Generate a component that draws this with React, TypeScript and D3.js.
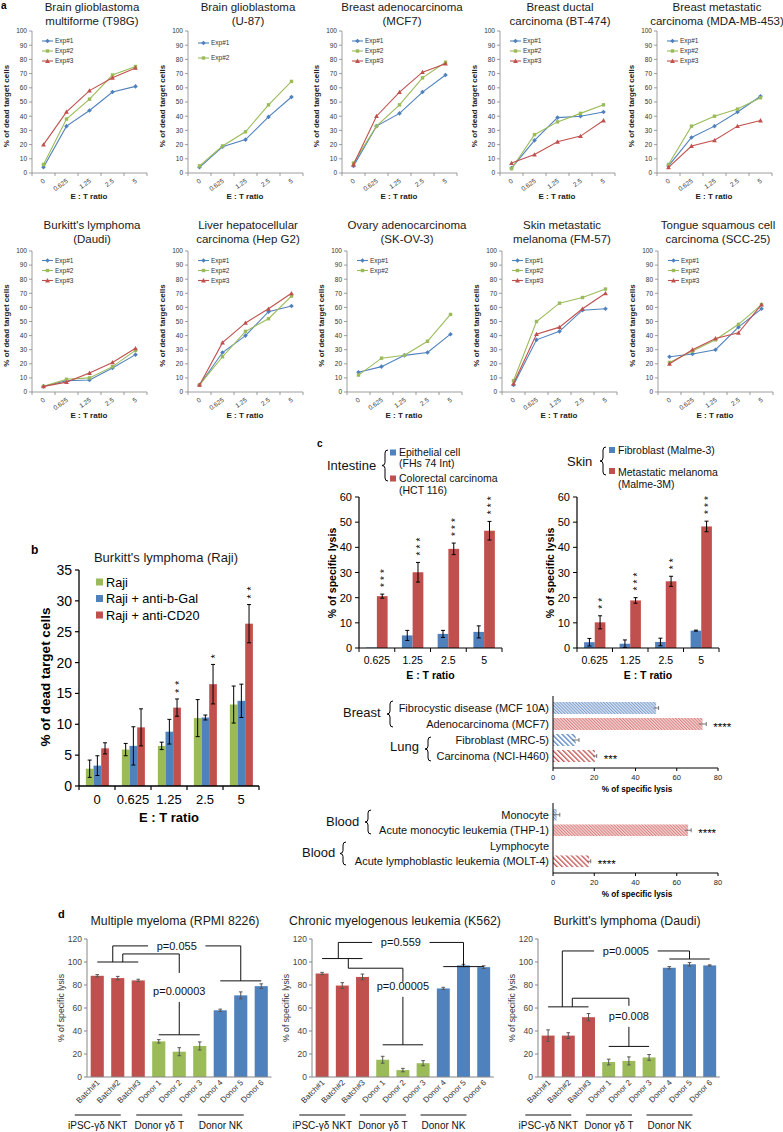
import React from 'react';
import * as d3 from 'd3';

const FONT = "'Liberation Sans', Arial, Helvetica, sans-serif";
const BLUE = '#4F81BD';
const GREEN = '#9BBB59';
const RED = '#C0504D';
const AXIS_GRAY = '#868686';
const DARK = '#222';

// ---------- Panel a data ----------
const ET_RATIOS = ['0', '0.625', '1.25', '2.5', '5'];
const EXP_LABELS = ['Exp#1', 'Exp#2', 'Exp#3'];
const T98G = [[4, 33, 44, 57, 61], [6, 38, 52, 69, 75], [20, 43, 58, 67, 74]];
const U87 = [[4, 18.5, 23.5, 39.5, 53.5], [5, 19, 29, 48, 64.5]];
const MCF7 = [[5, 33, 42, 57, 69], [7, 33, 48, 67, 78], [6, 40, 57, 71, 77]];
const BT474 = [[3.5, 23, 39, 40, 43], [3, 27, 36, 42, 48], [7, 13, 22, 26, 37]];
const MDAMB453 = [[5, 25, 33, 43, 54], [6, 33, 40, 45, 53], [4, 19, 23, 33, 37]];
const DAUDI_A = [[4, 8, 8.5, 17, 26.5], [4, 9, 10, 18, 29.5], [4, 7, 13.5, 21, 31]];
const HEPG2 = [[5, 28, 40, 57, 61], [5, 25, 43, 52, 68], [5, 35, 49, 59, 70]];
const SKOV3 = [[14, 18, 26, 28, 41], [12, 24, 26, 36, 55]];
const FM57 = [[5, 37, 43, 58, 59], [8, 50, 63, 67, 73], [6, 41, 46, 59, 70]];
const SCC25 = [[25, 27, 30, 46, 59], [21, 29, 37, 48, 62], [20, 30, 38, 42, 62]];
const Y_TICKS_A = d3.range(0, 101, 10);

// ---------- Panel b data ----------
const B_GROUPS = ['0', '0.625', '1.25', '2.5', '5'];
const B_SERIES = ['Raji', 'Raji + anti-b-Gal', 'Raji + anti-CD20'];
const RAJI = [2.8, 5.9, 6.5, 11.0, 13.2];
const RAJI_ERR = [1.4, 1.0, 0.6, 3.0, 3.0];
const RAJI_BGAL = [3.3, 6.5, 8.8, 11.1, 13.8];
const RAJI_BGAL_ERR = [1.6, 3.1, 2.0, 0.4, 2.7];
const RAJI_CD20 = [6.1, 9.5, 12.7, 16.5, 26.3];
const RAJI_CD20_ERR = [0.9, 3.0, 1.4, 3.2, 3.1];
const B_STARS = ['', '', '**', '*', '**'];
const B_TICKS = d3.range(0, 36, 5);

// ---------- Panel c data ----------
const C_RATIOS = ['0.625', '1.25', '2.5', '5'];
const FHS74 = [0.2, 5.0, 5.6, 6.4];
const FHS74_ERR = [0, 2.0, 1.4, 2.4];
const HCT116 = [20.6, 30.1, 39.4, 46.6];
const HCT116_ERR = [0.8, 3.9, 2.3, 3.7];
const INTESTINE_STARS = ['***', '***', '***', '***'];
const MALME3 = [2.3, 1.7, 2.4, 6.9];
const MALME3_ERR = [1.5, 1.5, 1.5, 0.2];
const MALME3M = [10.2, 18.9, 26.5, 48.3];
const MALME3M_ERR = [2.6, 1.1, 2.0, 2.1];
const SKIN_STARS = ['**', '***', '**', '***'];
const C_TICKS = d3.range(0, 61, 10);

const BL_LABELS = ['Fibrocystic disease (MCF 10A)', 'Adenocarcinoma (MCF7)', 'Fibroblast (MRC-5)', 'Carcinoma (NCI-H460)'];
const BL_VALUES = [50, 72.5, 11, 20.3];
const BL_ERR = [1.2, 1.8, 1.6, 0.9];
const BL_STARS = ['', '****', '', '***'];
const BLOOD_LABELS = ['Monocyte', 'Acute monocytic leukemia (THP-1)', 'Lymphocyte', 'Acute lymphoblastic leukemia (MOLT-4)'];
const BLOOD_VALUES = [1.8, 65.5, 0, 17.5];
const BLOOD_ERR = [1.5, 1.5, 0, 0.8];
const BLOOD_STARS = ['', '****', '', '****'];
const H_TICKS = [0, 20, 40, 60, 80];

// ---------- Panel d data ----------
const D_LABELS = ['Batch#1', 'Batch#2', 'Batch#3', 'Donor 1', 'Donor 2', 'Donor 3', 'Donor 4', 'Donor 5', 'Donor 6'];
const D_GROUPS = ['iPSC-γδ NKT', 'Donor γδ T', 'Donor NK'];
const RPMI8226 = [88, 86, 84, 31, 22, 27, 58, 71, 79];
const RPMI8226_ERR = [1, 1.5, 1, 1.5, 3.5, 3.5, 1, 3, 2];
const K562 = [90, 79.5, 87, 15, 6, 12, 77, 97, 95.5];
const K562_ERR = [1, 2.5, 2.5, 3, 1.5, 2.2, 1, 1, 1.2];
const DAUDI_D = [36, 36, 52, 13, 14, 17, 95, 98, 97];
const DAUDI_D_ERR = [5, 2.5, 3.2, 2.5, 3.5, 2.5, 1, 1.5, 0.5];
const RPMI_P = ['p=0.055', 'p=0.00003'];
const K562_P = ['p=0.559', 'p=0.00005'];
const DAUDI_P = ['p=0.0005', 'p=0.008'];
// bracket levels (in % units): top, red group, green group, NK group, inner, gapTop, text, gapBottom
const RPMI_BR = [114, 100, 36.7, 83.6, 107, 90.5, 71.4, 65.3];
const K562_BR = [117, 103, 28, 96, 94.6, 82.7, 75.7, 69.7];
const DAUDI_BR = [109.6, 61, 26.6, 102.6, 68.5, 61.9, 49.7, 43.6];
const D_TICKS = d3.range(0, 121, 20);

const SERIES_COLORS = [BLUE, GREEN, RED];

function brace(x: number, y1: number, y2: number, w = 3) {
  const ym = (y1 + y2) / 2;
  return `M${x + w},${y1} Q${x},${y1} ${x},${y1 + w} L${x},${ym - w} Q${x},${ym} ${x - w},${ym} Q${x},${ym} ${x},${ym + w} L${x},${y2 - w} Q${x},${y2} ${x + w},${y2}`;
}

function Marker({ kind, x, y, color }: { kind: number; x: number; y: number; color: string }) {
  if (kind === 0) {
    const s = 2.3;
    return <path d={`M${x},${y - s} L${x + s},${y} L${x},${y + s} L${x - s},${y} Z`} fill={color} />;
  }
  if (kind === 1) {
    const s = 1.7;
    return <rect x={x - s} y={y - s} width={2 * s} height={2 * s} fill={color} />;
  }
  const s = 2.4;
  return <path d={`M${x},${y - s} L${x + s},${y + s * 0.8} L${x - s},${y + s * 0.8} Z`} fill={color} />;
}

function LineChart({ x0, top, bottom, title, titleY, data, legendTop, legendGap }: any) {
  const w = 115;
  const x = d3.scaleBand().domain(ET_RATIOS).range([x0, x0 + w]);
  const y = d3.scaleLinear().domain([0, 100]).range([bottom, top]);
  const cx = (i: number) => (x(ET_RATIOS[i]) as number) + x.bandwidth() / 2;
  const line = d3.line<number>().x((_, i) => cx(i)).y((d) => y(d));
  return (
    <g>
      {title.map((t: string, i: number) => (
        <text key={i} x={x0 + 60} y={titleY + i * 13.5} textAnchor="middle" fontSize={11.5} fill="#1a1a1a">{t}</text>
      ))}
      <line x1={x0} x2={x0} y1={top} y2={bottom} stroke={AXIS_GRAY} strokeWidth={0.8} />
      <line x1={x0} x2={x0 + w} y1={bottom} y2={bottom} stroke={AXIS_GRAY} strokeWidth={0.8} />
      {Y_TICKS_A.map((t) => (
        <g key={t}>
          <line x1={x0 - 3} x2={x0} y1={y(t)} y2={y(t)} stroke={AXIS_GRAY} strokeWidth={0.8} />
          <text x={x0 - 5} y={y(t) + 2.3} textAnchor="end" fontSize={6.5} fill="#333">{t}</text>
        </g>
      ))}
      {d3.range(ET_RATIOS.length + 1).map((i) => (
        <line key={i} x1={x0 + i * x.step()} x2={x0 + i * x.step()} y1={bottom} y2={bottom + 3} stroke={AXIS_GRAY} strokeWidth={0.8} />
      ))}
      {ET_RATIOS.map((r, i) => (
        <text key={r} transform={`translate(${cx(i) + 2},${bottom + 9}) rotate(-35)`} textAnchor="end" fontSize={6.5} fill="#333">{r}</text>
      ))}
      <text x={x0 + 57} y={bottom + 26} textAnchor="middle" fontSize={8} fontWeight="bold" fill={DARK}>E : T ratio</text>
      <text transform={`translate(${x0 - 23},${(top + bottom) / 2 + 4}) rotate(-90)`} textAnchor="middle" fontSize={8} fontWeight="bold" fill={DARK}>% of dead target cells</text>
      {data.map((vals: number[], s: number) => (
        <g key={s}>
          <path d={line(vals) as string} fill="none" stroke={SERIES_COLORS[s]} strokeWidth={1.1} />
          {vals.map((v, i) => <Marker key={i} kind={s} x={cx(i)} y={y(v)} color={SERIES_COLORS[s]} />)}
        </g>
      ))}
      {data.map((_: number[], s: number) => {
        const ly = legendTop + s * legendGap;
        return (
          <g key={'l' + s}>
            <line x1={x0 + 10} x2={x0 + 21} y1={ly} y2={ly} stroke={SERIES_COLORS[s]} strokeWidth={1.1} />
            <Marker kind={s} x={x0 + 15.5} y={ly} color={SERIES_COLORS[s]} />
            <text x={x0 + 23} y={ly + 2.2} fontSize={6.5} fill="#333">{EXP_LABELS[s]}</text>
          </g>
        );
      })}
    </g>
  );
}

const ROW1 = [
  { x0: 32, title: ['Brain glioblastoma', 'multiforme (T98G)'], data: T98G, gap: 10, lt: 10 },
  { x0: 188, title: ['Brain glioblastoma', '(U-87)'], data: U87, gap: 15, lt: 12 },
  { x0: 342, title: ['Breast adenocarcinoma', '(MCF7)'], data: MCF7, gap: 10, lt: 10 },
  { x0: 500, title: ['Breast ductal', 'carcinoma (BT-474)'], data: BT474, gap: 10, lt: 10 },
  { x0: 657, title: ['Breast metastatic', 'carcinoma (MDA-MB-453)'], data: MDAMB453, gap: 10, lt: 10 },
];
const ROW2 = [
  { x0: 32, title: ["Burkitt's lymphoma", '(Daudi)'], data: DAUDI_A, gap: 10, lt: 9.5 },
  { x0: 188, title: ['Liver hepatocellular', 'carcinoma (Hep G2)'], data: HEPG2, gap: 10, lt: 9.5 },
  { x0: 347, title: ['Ovary adenocarcinoma', '(SK-OV-3)'], data: SKOV3, gap: 10, lt: 9.5 },
  { x0: 502, title: ['Skin metastatic', 'melanoma (FM-57)'], data: FM57, gap: 10, lt: 9.5 },
  { x0: 658, title: ['Tongue squamous cell', 'carcinoma (SCC-25)'], data: SCC25, gap: 10, lt: 9.5 },
];

function ErrBar({ x, y1, y2, cap, color = '#000' }: any) {
  return (
    <g stroke={color} strokeWidth={1}>
      <line x1={x} x2={x} y1={y1} y2={y2} />
      <line x1={x - cap} x2={x + cap} y1={y1} y2={y1} />
      <line x1={x - cap} x2={x + cap} y1={y2} y2={y2} />
    </g>
  );
}

// vertical column of asterisks as one rotated text; yBottom = centre of the lowest star
function Stars({ x, yBottom, stars, spacing, fs }: any) {
  if (!stars) return null;
  const adv = 0.389 * fs;
  const ls = spacing - adv;
  return (
    <text
      transform={`translate(${x + 0.575 * fs},${yBottom + adv / 2}) rotate(-90)`}
      fontSize={fs}
      letterSpacing={ls}
      fill="#000"
    >
      {stars}
    </text>
  );
}

function PanelB() {
  const x0 = 79, x1 = 259, yT = 570, yB = 786;
  const y = d3.scaleLinear().domain([0, 35]).range([yB, yT]);
  const x = d3.scaleBand().domain(B_GROUPS).range([x0, x1]);
  const inner = d3.scaleBand().domain(B_SERIES).range([x.bandwidth() * 0.19, x.bandwidth() * 0.83]);
  const series = [
    { v: RAJI, e: RAJI_ERR, c: GREEN },
    { v: RAJI_BGAL, e: RAJI_BGAL_ERR, c: BLUE },
    { v: RAJI_CD20, e: RAJI_CD20_ERR, c: RED },
  ];
  return (
    <g>
      <text x={31} y={554} fontSize={12} fontWeight="bold">b</text>
      <text x={166} y={562} textAnchor="middle" fontSize={13} fill="#1a1a1a">Burkitt's lymphoma (Raji)</text>
      {series.map((s, si) =>
        B_GROUPS.map((g, gi) => {
          const bx = (x(g) as number) + (inner(B_SERIES[si]) as number);
          const bw = inner.bandwidth();
          return (
            <g key={si + '-' + gi}>
              <rect x={bx} y={y(s.v[gi])} width={bw} height={yB - y(s.v[gi])} fill={s.c} />
              <ErrBar x={bx + bw / 2} y1={y(s.v[gi] + s.e[gi])} y2={y(s.v[gi] - s.e[gi])} cap={2} />
            </g>
          );
        })
      )}
      {B_GROUPS.map((g, gi) => {
        const bx = (x(g) as number) + (inner(B_SERIES[2]) as number) + inner.bandwidth() / 2;
        return <Stars key={g} x={bx} yBottom={y(RAJI_CD20[gi] + RAJI_CD20_ERR[gi]) - 8} stars={B_STARS[gi]} spacing={8} fs={11} />;
      })}
      <line x1={x0} x2={x0} y1={yT} y2={yB} stroke="#000" strokeWidth={1.3} />
      <line x1={x0} x2={x1} y1={yB} y2={yB} stroke="#000" strokeWidth={1.3} />
      {B_TICKS.map((t) => (
        <g key={t}>
          <line x1={x0 - 4} x2={x0} y1={y(t)} y2={y(t)} stroke="#000" strokeWidth={1.2} />
          <text x={x0 - 7} y={y(t) + 5} textAnchor="end" fontSize={14} fill="#000">{t}</text>
        </g>
      ))}
      {d3.range(B_GROUPS.length + 1).map((i) => (
        <line key={i} x1={x0 + i * x.step()} x2={x0 + i * x.step()} y1={yB} y2={yB + 4} stroke="#000" strokeWidth={1.2} />
      ))}
      {B_GROUPS.map((g) => (
        <text key={g} x={(x(g) as number) + x.bandwidth() / 2} y={804} textAnchor="middle" fontSize={13} fill="#000">{g}</text>
      ))}
      <text x={169} y={822} textAnchor="middle" fontSize={13} fontWeight="bold">E : T ratio</text>
      <text transform={`translate(50,677) rotate(-90)`} textAnchor="middle" fontSize={13.5} fontWeight="bold">% of dead target cells</text>
      {series.map((s, i) => (
        <g key={i}>
          <rect x={96} y={582 + i * 16.5 - 3.5} width={7} height={7} fill={s.c} />
          <text x={106} y={582 + i * 16.5 + 4.5} fontSize={12.7} fill="#000">{B_SERIES[i]}</text>
        </g>
      ))}
    </g>
  );
}

function LysisBars({ x0, x1, blue, blueErr, red, redErr, stars }: any) {
  const yT = 497, yB = 648;
  const y = d3.scaleLinear().domain([0, 60]).range([yB, yT]);
  const x = d3.scaleBand().domain(C_RATIOS).range([x0, x1]);
  const inner = d3.scaleBand().domain(['n', 't']).range([x.bandwidth() * 0.2, x.bandwidth() * 0.8]);
  const bw = inner.bandwidth();
  return (
    <g>
      {C_RATIOS.map((g, gi) => {
        const bx = (x(g) as number) + (inner('n') as number);
        const rx = (x(g) as number) + (inner('t') as number);
        return (
          <g key={g}>
            <rect x={bx} y={y(blue[gi])} width={bw} height={yB - y(blue[gi])} fill={BLUE} />
            {blueErr[gi] > 0 && <ErrBar x={bx + bw / 2} y1={y(blue[gi] + blueErr[gi])} y2={y(Math.max(0, blue[gi] - blueErr[gi]))} cap={2} />}
            <rect x={rx} y={y(red[gi])} width={bw} height={yB - y(red[gi])} fill={RED} />
            <ErrBar x={rx + bw / 2} y1={y(red[gi] + redErr[gi])} y2={y(red[gi] - redErr[gi])} cap={2} />
            <Stars x={rx + bw / 2} yBottom={y(red[gi] + redErr[gi]) - 9} stars={stars[gi]} spacing={7} fs={10} />
          </g>
        );
      })}
      <line x1={x0} x2={x0} y1={yT} y2={yB} stroke="#000" strokeWidth={1.2} />
      <line x1={x0} x2={x1} y1={yB} y2={yB} stroke="#000" strokeWidth={1.2} />
      {C_TICKS.map((t) => (
        <g key={t}>
          <line x1={x0 - 4} x2={x0} y1={y(t)} y2={y(t)} stroke="#000" />
          <text x={x0 - 7} y={y(t) + 4} textAnchor="end" fontSize={11} fill="#000">{t}</text>
        </g>
      ))}
      {d3.range(C_RATIOS.length + 1).map((i) => (
        <line key={i} x1={x0 + i * x.step()} x2={x0 + i * x.step()} y1={yB} y2={yB + 4} stroke="#000" />
      ))}
      {C_RATIOS.map((g) => (
        <text key={g} x={(x(g) as number) + x.bandwidth() / 2} y={664} textAnchor="middle" fontSize={10.5} fill="#000">{g}</text>
      ))}
      <text x={(x0 + x1) / 2} y={679} textAnchor="middle" fontSize={10.5} fontWeight="bold">E : T ratio</text>
      <text transform={`translate(${x0 - 23},573) rotate(-90)`} textAnchor="middle" fontSize={10.5} fontWeight="bold">% of specific lysis</text>
    </g>
  );
}

function HBars({ axisTop, axisBottom, bandTop, bandBottom, labels, values, errs, stars, fills }: any) {
  const x0 = 553, x1 = 718;
  const x = d3.scaleLinear().domain([0, 80]).range([x0, x1]);
  const y = d3.scaleBand().domain(labels).range([bandTop, bandBottom]).paddingInner(0.25).paddingOuter(0.125);
  const bh = y.bandwidth();
  return (
    <g>
      {labels.map((l: string, i: number) => {
        const by = y(l) as number;
        return (
          <g key={l}>
            {values[i] > 0 && <rect x={x0} y={by} width={x(values[i]) - x0} height={bh} fill={`url(#${fills[i]})`} />}
            {errs[i] > 0 && (
              <g stroke="#555" strokeWidth={0.8}>
                <line x1={x(values[i] - errs[i])} x2={x(values[i] + errs[i])} y1={by + bh / 2} y2={by + bh / 2} />
                <line x1={x(values[i] + errs[i])} x2={x(values[i] + errs[i])} y1={by + bh / 2 - 2} y2={by + bh / 2 + 2} />
              </g>
            )}
            <text x={549} y={by + bh / 2 + 4} textAnchor="end" fontSize={11} fill="#111">{l}</text>
            {stars[i] && (
              <text x={x(values[i] + errs[i]) + 7} y={by + bh / 2 + 7} fontSize={11.5} fill="#000">{stars[i]}</text>
            )}
          </g>
        );
      })}
      <line x1={x0} x2={x0} y1={axisTop} y2={axisBottom} stroke="#000" strokeWidth={1} />
      <line x1={x0} x2={x1} y1={axisBottom} y2={axisBottom} stroke="#000" strokeWidth={1} />
      {H_TICKS.map((t) => (
        <g key={t}>
          <line x1={x(t)} x2={x(t)} y1={axisBottom} y2={axisBottom + 3} stroke="#000" />
          <text x={x(t)} y={axisBottom + 12} textAnchor="middle" fontSize={7.5} fill="#222">{t}</text>
        </g>
      ))}
      <text x={637} y={axisBottom + 23.5} textAnchor="middle" fontSize={8.2} fontWeight="bold">% of specific lysis</text>
    </g>
  );
}

function PanelD({ x0, step, title, titleX, values, errs, pv, br, brOff }: any) {
  const yB = 1077, yT = 939;
  const y = d3.scaleLinear().domain([0, 120]).range([yB, yT]);
  const x = d3.scaleBand().domain(D_LABELS).range([x0, x0 + step * D_LABELS.length]).paddingInner(0.36).paddingOuter(0.18);
  const bw = x.bandwidth();
  const c = (i: number) => (x(D_LABELS[i]) as number) + bw / 2;
  const colors = [RED, RED, RED, GREEN, GREEN, GREEN, BLUE, BLUE, BLUE];
  const [top, redL, greenL, nkL, inner, gapTop, textBase, gapBottom] = br;
  const redMid = (c(0) + c(2)) / 2, greenMid = (c(3) + c(5)) / 2, nkMid = (c(6) + c(8)) / 2;
  const lx = redMid + brOff[0], ix = redMid + brOff[1];
  const topMid = (lx + nkMid) / 2;
  const pw0 = pv[0].length * 6.2 + 14;
  const ink = '#111';
  return (
    <g>
      <text x={titleX} y={925} textAnchor="middle" fontSize={12.3} fill="#1a1a1a">{title}</text>
      {values.map((v: number, i: number) => (
        <g key={i}>
          <rect x={x(D_LABELS[i])} y={y(v)} width={bw} height={yB - y(v)} fill={colors[i]} />
          <ErrBar x={c(i)} y1={y(v + errs[i])} y2={y(v - errs[i])} cap={1.8} color="#555" />
        </g>
      ))}
      <line x1={x0} x2={x0} y1={yT} y2={yB} stroke={AXIS_GRAY} />
      <line x1={x0} x2={x0 + step * D_LABELS.length} y1={yB} y2={yB} stroke={AXIS_GRAY} />
      {D_TICKS.map((t) => (
        <g key={t}>
          <line x1={x0 - 3} x2={x0} y1={y(t)} y2={y(t)} stroke={AXIS_GRAY} />
          <text x={x0 - 5} y={y(t) + 3} textAnchor="end" fontSize={8.5} fill="#444">{t}</text>
        </g>
      ))}
      {D_LABELS.map((l, i) => (
        <text key={l} transform={`translate(${c(i) + 3},${yB + 6}) rotate(-45)`} textAnchor="end" fontSize={8} fill="#333">{l}</text>
      ))}
      <text transform={`translate(${x0 - 23},1008) rotate(-90)`} textAnchor="middle" fontSize={8.7} fill="#333">% of specific lysis</text>
      <g stroke={ink} strokeWidth={1}>
        <line x1={c(0)} x2={c(2)} y1={y(redL)} y2={y(redL)} />
        <line x1={c(3)} x2={c(5)} y1={y(greenL)} y2={y(greenL)} />
        <line x1={c(6)} x2={c(8)} y1={y(nkL)} y2={y(nkL)} />
        <line x1={lx} x2={lx} y1={y(top)} y2={y(redL)} />
        <line x1={nkMid} x2={nkMid} y1={y(top)} y2={y(nkL)} />
        <line x1={lx} x2={topMid - pw0 / 2} y1={y(top)} y2={y(top)} />
        <line x1={topMid + pw0 / 2} x2={nkMid} y1={y(top)} y2={y(top)} />
        <line x1={ix} x2={ix} y1={y(redL)} y2={y(inner)} />
        <line x1={ix} x2={greenMid} y1={y(inner)} y2={y(inner)} />
        <line x1={greenMid} x2={greenMid} y1={y(inner)} y2={y(gapTop)} />
        <line x1={greenMid} x2={greenMid} y1={y(gapBottom)} y2={y(greenL)} />
      </g>
      <text x={topMid} y={y(top) + 4} textAnchor="middle" fontSize={11} fill="#111">{pv[0]}</text>
      <text x={greenMid} y={y(textBase)} textAnchor="middle" fontSize={11} fill="#111">{pv[1]}</text>
      {D_GROUPS.map((g, gi) => {
        const mid = (c(gi * 3) + c(gi * 3 + 2)) / 2 - 20;
        return (
          <g key={g}>
            <line x1={mid - 23} x2={mid + 23} y1={1115} y2={1115} stroke={ink} />
            <text x={mid} y={1129} textAnchor="middle" fontSize={10} fill="#111">{g}</text>
          </g>
        );
      })}
    </g>
  );
}

export default function App() {
  return (
    <svg width={783} height={1132} style={{ position: 'absolute', left: 0, top: 0, background: '#fff' }} fontFamily={FONT}>
      <rect width={783} height={1132} fill="#fff" />
      <defs>
        <pattern id="denseBlue" patternUnits="userSpaceOnUse" width={2.2} height={2.2} patternTransform="rotate(-45)">
          <rect width={2.2} height={2.2} fill="#dbe5f3" />
          <rect width={1} height={2.2} fill="#7f9fcc" />
        </pattern>
        <pattern id="denseRed" patternUnits="userSpaceOnUse" width={2.2} height={2.2} patternTransform="rotate(-45)">
          <rect width={2.2} height={2.2} fill="#f3d6d6" />
          <rect width={1} height={2.2} fill="#d98080" />
        </pattern>
        <pattern id="coarseBlue" patternUnits="userSpaceOnUse" width={3.6} height={3.6} patternTransform="rotate(-45)">
          <rect width={3.6} height={3.6} fill="#fff" />
          <rect width={1.3} height={3.6} fill={BLUE} />
        </pattern>
        <pattern id="coarseRed" patternUnits="userSpaceOnUse" width={3.6} height={3.6} patternTransform="rotate(-45)">
          <rect width={3.6} height={3.6} fill="#fff" />
          <rect width={1.3} height={3.6} fill={RED} />
        </pattern>
      </defs>

      {/* Panel a */}
      <text x={1} y={8.5} fontSize={10} fontWeight="bold">a</text>
      {ROW1.map((r, i) => (
        <LineChart key={'r1' + i} x0={r.x0} top={31} bottom={173} title={r.title} titleY={11} data={r.data} legendTop={31 + r.lt} legendGap={r.gap} />
      ))}
      {ROW2.map((r, i) => (
        <LineChart key={'r2' + i} x0={r.x0} top={251} bottom={392} title={r.title} titleY={229} data={r.data} legendTop={251 + r.lt} legendGap={r.gap} />
      ))}

      {/* Panel b */}
      <PanelB />

      {/* Panel c */}
      <text x={317} y={447} fontSize={10} fontWeight="bold">c</text>
      <text x={327} y={470} fontSize={13} fill="#111">Intestine</text>
      <path d={brace(385, 450, 481)} fill="none" stroke="#000" strokeWidth={1} />
      <rect x={390} y={449.5} width={6} height={6} fill={BLUE} />
      <rect x={390} y={475.5} width={6} height={6} fill={RED} />
      <text x={399} y={456} fontSize={10.5} fill="#111">Epithelial cell</text>
      <text x={399} y={467} fontSize={10.5} fill="#111">(FHs 74 Int)</text>
      <text x={399} y={482} fontSize={10.5} fill="#111">Colorectal carcinoma</text>
      <text x={399} y={494} fontSize={10.5} fill="#111">(HCT 116)</text>
      <LysisBars x0={359} x1={502} blue={FHS74} blueErr={FHS74_ERR} red={HCT116} redErr={HCT116_ERR} stars={INTESTINE_STARS} />

      <text x={567} y={466} fontSize={13} fill="#111">Skin</text>
      <path d={brace(603, 447, 475)} fill="none" stroke="#000" strokeWidth={1} />
      <rect x={609} y={447} width={6} height={6} fill={BLUE} />
      <rect x={609} y={468} width={6} height={6} fill={RED} />
      <text x={618} y={454} fontSize={10.5} fill="#111">Fibroblast (Malme-3)</text>
      <text x={618} y={476} fontSize={10.5} fill="#111">Metastatic melanoma</text>
      <text x={618} y={488} fontSize={10.5} fill="#111">(Malme-3M)</text>
      <LysisBars x0={577} x1={719} blue={MALME3} blueErr={MALME3_ERR} red={MALME3M} redErr={MALME3M_ERR} stars={SKIN_STARS} />

      <text x={343} y={717} fontSize={13} fill="#111">Breast</text>
      <path d={brace(390, 701, 727)} fill="none" stroke="#000" strokeWidth={1} />
      <text x={390} y={751} fontSize={13} fill="#111">Lung</text>
      <path d={brace(428, 737, 761)} fill="none" stroke="#000" strokeWidth={1} />
      <HBars axisTop={696} axisBottom={768} bandTop={700} bandBottom={764} labels={BL_LABELS} values={BL_VALUES} errs={BL_ERR} stars={BL_STARS} fills={['denseBlue', 'denseRed', 'coarseBlue', 'coarseRed']} />

      <text x={326} y={826} fontSize={13} fill="#111">Blood</text>
      <path d={brace(368, 810, 834)} fill="none" stroke="#000" strokeWidth={1} />
      <text x={302} y={857} fontSize={13} fill="#111">Blood</text>
      <path d={brace(343, 842, 865)} fill="none" stroke="#000" strokeWidth={1} />
      <HBars axisTop={803} axisBottom={873} bandTop={807} bandBottom={869} labels={BLOOD_LABELS} values={BLOOD_VALUES} errs={BLOOD_ERR} stars={BLOOD_STARS} fills={['denseBlue', 'denseRed', 'coarseBlue', 'coarseRed']} />

      {/* Panel d */}
      <text x={58} y={918} fontSize={11} fontWeight="bold">d</text>
      <PanelD x0={87} step={20.5} title="Multiple myeloma (RPMI 8226)" titleX={175} values={RPMI8226} errs={RPMI8226_ERR} pv={RPMI_P} br={RPMI_BR} brOff={[-5, 5]} />
      <PanelD x0={312} step={20.2} title="Chronic myelogenous leukemia (K562)" titleX={395} values={K562} errs={K562_ERR} pv={K562_P} br={K562_BR} brOff={[-4, 6]} />
      <PanelD x0={538} step={20.2} title="Burkitt's lymphoma (Daudi)" titleX={627} values={DAUDI_D} errs={DAUDI_D_ERR} pv={DAUDI_P} br={DAUDI_BR} brOff={[-6, 4]} />
    </svg>
  );
}
